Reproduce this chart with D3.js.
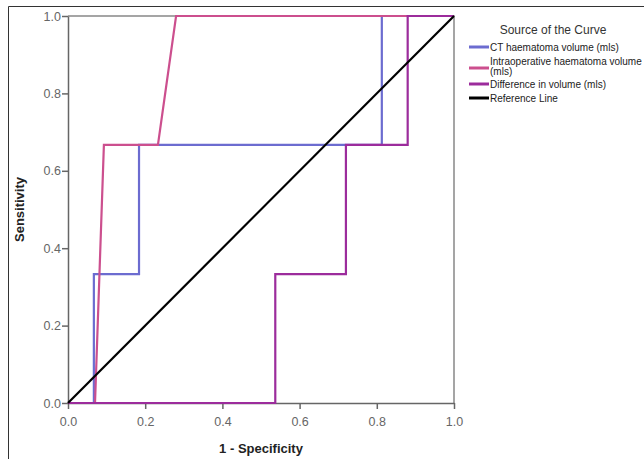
<!DOCTYPE html>
<html>
<head>
<meta charset="utf-8">
<script src="https://cdn.jsdelivr.net/npm/d3@7"></script>
<style>
  body { margin: 0; background: #fff; }
  svg { display: block; font-family: "Liberation Sans", Arial, sans-serif; }
</style>
</head>
<body>
<div id="chart"></div>
<script>
// ROC curves
var ctFpr   = [0, 0.067, 0.067, 0.184, 0.184, 0.813, 0.813, 1];
var ctTpr   = [0, 0, 0.333, 0.333, 0.667, 0.667, 1, 1];
var intraFpr = [0, 0.07, 0.093, 0.233, 0.28, 1];
var intraTpr = [0, 0, 0.667, 0.667, 1, 1];
var diffFpr = [0, 0.537, 0.537, 0.72, 0.72, 0.88, 0.88, 1];
var diffTpr = [0, 0, 0.333, 0.333, 0.667, 0.667, 1, 1];
var refFpr = [0, 1];
var refTpr = [0, 1];

var seriesNames = ['CT haematoma volume (mls)', 'Intraoperative haematoma volume (mls)', 'Difference in volume (mls)', 'Reference Line'];
var seriesColors = ['#6c6cd0', '#cc4f8e', '#9c2c9c', '#000000'];
var tickValues = [0, 0.2, 0.4, 0.6, 0.8, 1.0];

var W = 644, H = 459;
var svg = d3.select('#chart').append('svg').attr('width', W).attr('height', H);

// outer frame
svg.append('path')
  .attr('d', 'M8.5,' + H + 'V6.5H' + W)
  .attr('fill', 'none').attr('stroke', '#333').attr('stroke-width', 1);

var x = d3.scaleLinear().domain([0, 1]).range([68, 454]);
var y = d3.scaleLinear().domain([0, 1]).range([403, 16]);

// plot frame (top & right)
svg.append('path')
  .attr('d', 'M' + x(0) + ',' + y(1) + 'H' + x(1) + 'V' + y(0))
  .attr('fill', 'none').attr('stroke', '#888').attr('stroke-width', 1.5);

var xAxis = svg.append('g').attr('transform', 'translate(0,' + y(0) + ')')
  .call(d3.axisBottom(x).tickValues(tickValues).tickFormat(d3.format('.1f')).tickSize(6).tickSizeOuter(0));
var yAxis = svg.append('g').attr('transform', 'translate(' + x(0) + ',0)')
  .call(d3.axisLeft(y).tickValues(tickValues).tickFormat(d3.format('.1f')).tickSize(6).tickSizeOuter(0));

[xAxis, yAxis].forEach(function (g) {
  g.select('.domain').attr('stroke', '#666').attr('stroke-width', 1.5);
  g.selectAll('.tick line').attr('stroke', '#666').attr('stroke-width', 1.5);
  g.selectAll('.tick text').attr('fill', '#666').attr('font-size', 12.5)
    .attr('font-family', '"Liberation Sans", Arial, sans-serif');
});
xAxis.selectAll('.tick text').attr('dy', '1.1em');
yAxis.selectAll('.tick text').attr('dx', '0.15em');

svg.append('text').attr('x', (x(0) + x(1)) / 2).attr('y', 453)
  .attr('text-anchor', 'middle').attr('font-size', 13).attr('font-weight', 'bold')
  .attr('fill', '#222').text('1 - Specificity');
svg.append('text').attr('transform', 'translate(24,' + (y(0.5)) + ') rotate(-90)')
  .attr('text-anchor', 'middle').attr('font-size', 13).attr('font-weight', 'bold')
  .attr('fill', '#222').text('Sensitivity');

var line = d3.line().x(function (d) { return x(d[0]); }).y(function (d) { return y(d[1]); });
function pairs(a, b) { return a.map(function (v, i) { return [v, b[i]]; }); }

var curves = [pairs(ctFpr, ctTpr), pairs(intraFpr, intraTpr), pairs(diffFpr, diffTpr), pairs(refFpr, refTpr)];
svg.selectAll('.curve').data(curves).join('path')
  .attr('class', 'curve')
  .attr('d', line)
  .attr('fill', 'none')
  .attr('stroke', function (d, i) { return seriesColors[i]; })
  .attr('stroke-width', 2.2);

// legend
var lg = svg.append('g');
lg.append('text').attr('x', 553).attr('y', 34).attr('text-anchor', 'middle')
  .attr('font-size', 12).attr('fill', '#333').text('Source of the Curve');
var rows = [
  { y: 47, lines: ['CT haematoma volume (mls)'] },
  { y: 61, lines: ['Intraoperative haematoma volume', '(mls)'] },
  { y: 84, lines: ['Difference in volume (mls)'] },
  { y: 98, lines: ['Reference Line'] }
];
rows.forEach(function (r, i) {
  var sy = i === 1 ? r.y + 7 : r.y;
  lg.append('line').attr('x1', 469).attr('x2', 489).attr('y1', sy).attr('y2', sy)
    .attr('stroke', seriesColors[i]).attr('stroke-width', 3);
  r.lines.forEach(function (t, j) {
    lg.append('text').attr('x', 490).attr('y', r.y + 4 + j * 10)
      .attr('font-size', 10).attr('fill', '#222').text(t);
  });
});
</script>
</body>
</html>
